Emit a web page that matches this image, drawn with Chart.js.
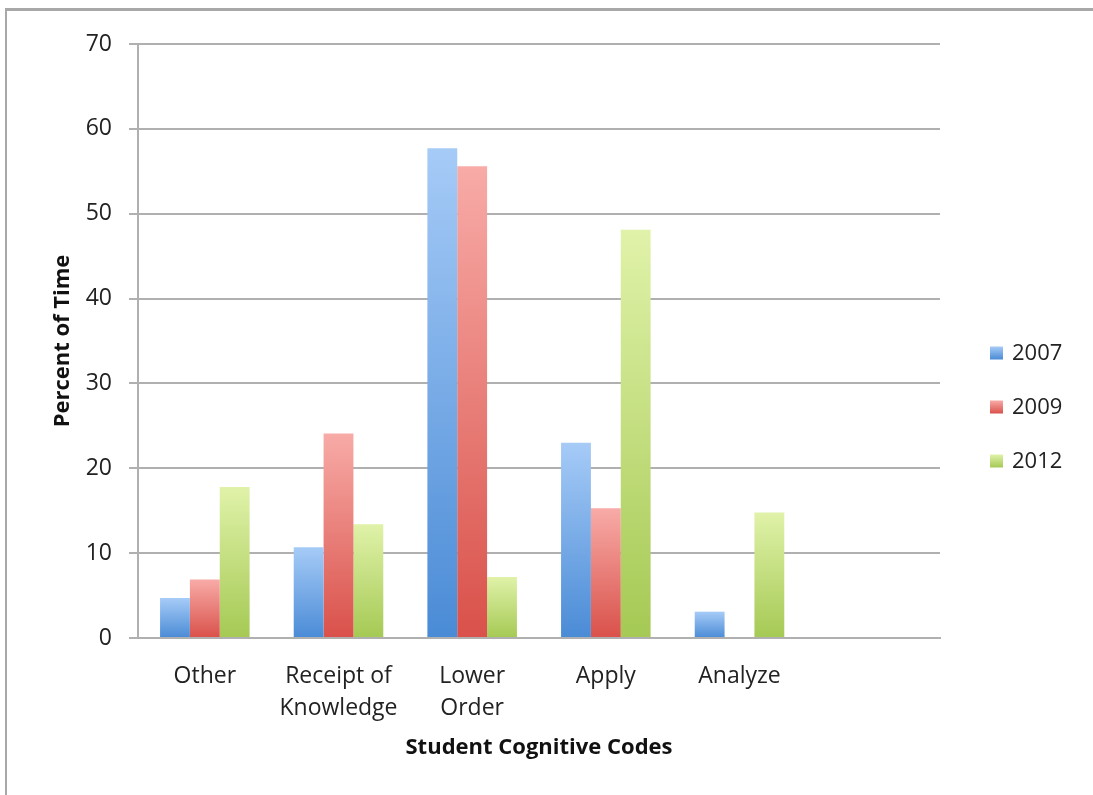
<!DOCTYPE html>
<html>
<head>
<meta charset="utf-8">
<script src="https://cdn.jsdelivr.net/npm/chart.js@4/dist/chart.umd.min.js"></script>
<style>
  html, body { margin: 0; padding: 0; background: #fff; overflow: hidden; }
  #wrap { position: relative; width: 1093px; height: 795px; overflow: hidden; }
  #frame { position: absolute; left: 5px; top: 8px; width: 1300px; height: 1000px;
           border-left: 2px solid #a8a8a8; border-top: 3px solid #a8a8a8; }
  #chart { position: absolute; left: 0; top: 0; }
</style>
</head>
<body>
<div id="wrap">
  <div id="frame"></div>
  <canvas id="chart" width="1093" height="795"></canvas>
</div>
<script>
const ctx = document.getElementById("chart");

// categories (last slot is empty in the original)
const categories = ["Other", ["Receipt of", "Knowledge"], ["Lower", "Order"], "Apply", "Analyze", ""];
const years = ["2007", "2009", "2012"];

const values2007 = [4.7, 10.7, 57.7, 23.0, 3.1, null];
const values2009 = [6.9, 24.1, 55.6, 15.3, 0, null];
const values2012 = [17.8, 13.4, 7.2, 48.1, 14.8, null];

const yTicks = [0, 10, 20, 30, 40, 50, 60, 70];

// light (top) and dark (bottom) colour for each year
const lightColors = ["#a6cbf7", "#f8aba7", "#e0f2a9"];
const darkColors = ["#4a8bd6", "#d9514a", "#a5c954"];
const midColors = ["#79abe8", "#ea7c76", "#c2de7e"];

const font = "'Open Sans', 'DejaVu Sans', sans-serif";

function barFill(i) {
  return function (c) {
    const chart = c.chart;
    if (c.dataIndex === undefined || !chart.chartArea || c.raw == null) return midColors[i];
    const y = chart.scales.y;
    const top = y.getPixelForValue(c.raw);
    const base = y.getPixelForValue(0);
    if (base - top < 1) return darkColors[i];
    const g = chart.ctx.createLinearGradient(0, top, 0, base);
    g.addColorStop(0, lightColors[i]);
    g.addColorStop(1, darkColors[i]);
    return g;
  };
}

// legend drawn on the right, to the side of the plot
const sideLegend = {
  id: "sideLegend",
  afterDraw(chart) {
    const c = chart.ctx;
    const x = 990, box = 13;
    c.save();
    c.font = "22px " + font;
    c.textBaseline = "middle";
    c.textAlign = "left";
    chart.data.datasets.forEach((ds, i) => {
      const cy = 353 + i * 54;
      const g = c.createLinearGradient(0, cy - box / 2, 0, cy + box / 2);
      g.addColorStop(0, lightColors[i]);
      g.addColorStop(1, darkColors[i]);
      c.fillStyle = g;
      c.fillRect(x, cy - box / 2, box, box);
      c.fillStyle = "#222";
      c.fillText(ds.label, x + 22, cy + 1);
    });
    c.restore();
  }
};

new Chart(ctx, {
  type: "bar",
  data: {
    labels: categories,
    datasets: [
      { label: years[0], data: values2007, backgroundColor: barFill(0) },
      { label: years[1], data: values2009, backgroundColor: barFill(1) },
      { label: years[2], data: values2012, backgroundColor: barFill(2) },
    ],
  },
  options: {
    responsive: false,
    animation: false,
    layout: { padding: { left: 0, top: 44, right: 153, bottom: 0 } },
    datasets: { bar: { barPercentage: 1, categoryPercentage: 0.67, borderWidth: 0 } },
    plugins: {
      legend: { display: false },
      tooltip: { enabled: false },
    },
    scales: {
      x: {
        grid: { display: false },
        border: { display: true, color: "#b0b0b0", width: 2 },
        ticks: {
          color: "#222",
          font: { family: font, size: 23, lineHeight: 1.4 },
          padding: 14,
          maxRotation: 0,
          autoSkip: false,
        },
        title: {
          display: true,
          text: "Student Cognitive Codes",
          color: "#111",
          font: { family: font, size: 22, weight: "bold" },
          padding: { top: 0, bottom: 34 },
        },
        afterFit(scale) { scale.height = 795 - 638; },
      },
      y: {
        min: 0,
        max: 70,
        afterBuildTicks(scale) { scale.ticks = yTicks.map(v => ({ value: v })); },
        grid: { color: "#b0b0b0", lineWidth: 2, tickLength: 9 },
        border: { display: true, color: "#b0b0b0", width: 2 },
        ticks: {
          color: "#222",
          font: { family: font, size: 23 },
          padding: 17,
        },
        title: {
          display: true,
          text: "Percent of Time",
          color: "#111",
          font: { family: font, size: 22, weight: "bold" },
          padding: { top: 50, bottom: 0 },
        },
        afterFit(scale) { scale.width = 138; },
      },
    },
  },
  plugins: [sideLegend],
});
</script>
</body>
</html>
